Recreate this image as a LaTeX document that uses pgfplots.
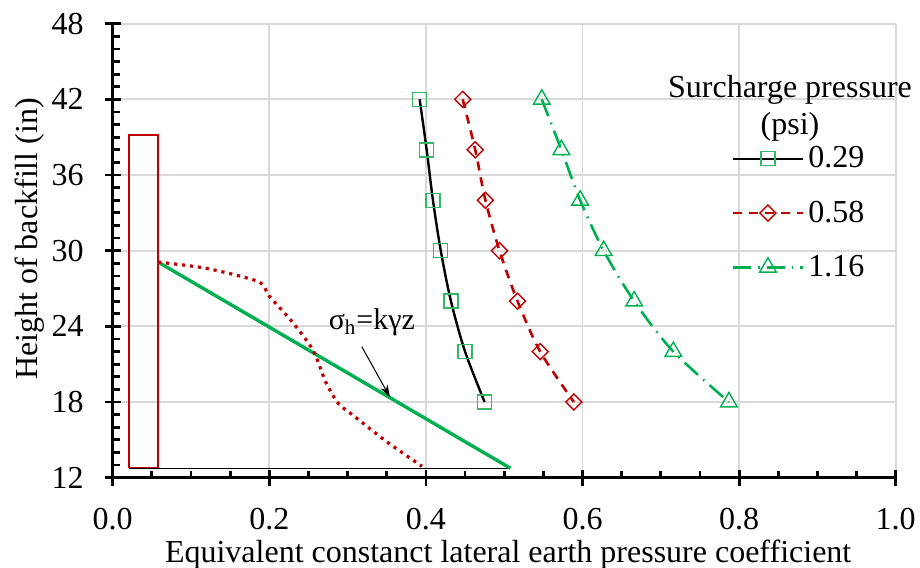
\documentclass[border=0pt]{standalone}
\usepackage{pgfplots}
\pgfplotsset{compat=1.18}
\usepackage{fontspec}
\setmainfont{Liberation Serif}
\usetikzlibrary{calc,arrows.meta}
\definecolor{sqgreen}{RGB}{51,184,102}
\definecolor{trigreen}{RGB}{0,176,80}
\definecolor{dred}{RGB}{192,0,0}
\definecolor{gridgray}{RGB}{217,217,217}
\begin{document}
\begin{tikzpicture}
\begin{axis}[
  scale only axis, width=391.5pt, height=227pt,
  xmin=0, xmax=1, ymin=12, ymax=48,
  axis lines=left, axis line style={-, line width=1.6pt},
  x axis line style={-}, y axis line style={-},
  xtick={0,0.2,0.4,0.6,0.8,1.0}, ytick={12,18,24,30,36,42,48},
  minor x tick num=3, minor y tick num=5,
  tick align=inside, major tick length=4pt, minor tick length=3.5pt,
  tick style={black, line width=1.4pt},
  extra x ticks={0,0.2,0.4,0.6,0.8,1.0}, extra x tick labels={},
  extra y ticks={12,18,24,30,36,42,48}, extra y tick labels={},
  extra tick style={tick align=outside, major tick length=4pt, grid=none},
  grid=major, major grid style={draw=gridgray, line width=0.9pt},
  /pgf/number format/assume math mode=true,
  ticklabel style={font=\fontsize{16}{18}\selectfont, inner sep=1pt},
  xticklabel style={yshift=-14.3pt, /pgf/number format/.cd, fixed, fixed zerofill, precision=1},
  yticklabel style={xshift=-13.3pt},
  xlabel={Equivalent constanct lateral earth pressure coefficient},
  ylabel={Height of backfill (in)},
  label style={font=\fontsize{16}{18}\selectfont, inner sep=1pt},
  xlabel style={at={(axis description cs:0.505,0)}, anchor=base, yshift=-42.5pt},
  ylabel style={at={(axis description cs:-0.106,0.526)}, anchor=center, rotate=0},
  clip=false,
  legend style={at={(axis cs:0.79,38.6)}, anchor=north west, draw=none, fill=none,
    inner sep=0pt, row sep=11pt, font=\fontsize{16}{18}\selectfont,
    nodes={inner sep=2pt}},
  legend cell align=left,
  legend image code/.code={\draw[mark repeat=2,mark phase=2] plot coordinates {(0pt,0pt)(17.5pt,0pt)(35pt,0pt)};},
]
% surcharge 0.29
\addplot[black, line width=1.2pt, smooth, mark=square, mark size=3.5pt,
  mark options={solid, draw=sqgreen, fill=none, line width=0.7pt}]
  coordinates {(0.392,42)(0.401,38)(0.409,34)(0.419,30)(0.432,26)(0.450,22)(0.475,18)};
\addlegendentry{0.29}
% surcharge 0.58
\addplot[dred, line width=1.3pt, smooth, dash pattern=on 4.5pt off 3.5pt, mark=square, mark size=2.85pt,
  mark options={solid, rotate=45, draw=dred, fill=none, line width=0.7pt}]
  coordinates {(0.447,42)(0.463,38)(0.476,34)(0.494,30)(0.517,26)(0.546,22)(0.589,18)};
\addlegendentry{0.58}
% surcharge 1.16
\addplot[trigreen, line width=1.3pt, smooth, dash pattern=on 9pt off 3.5pt on 0.8pt off 3.5pt, mark=triangle, mark size=4.8pt,
  mark options={solid, draw=trigreen, fill=none, line width=0.7pt}]
  coordinates {(0.548,42)(0.573,38)(0.597,34)(0.627,30)(0.666,26)(0.716,22)(0.787,18)};
\addlegendentry{1.16}
% wall rectangle
\addplot[dred, line width=1pt, forget plot] coordinates {(0.021,12.75)(0.021,39.17)(0.058,39.17)(0.058,12.75)(0.021,12.75)};
% base line
\addplot[black, line width=0.6pt, forget plot] coordinates {(0.021,12.75)(0.508,12.75)};
% theoretical line
\addplot[trigreen, line width=1.7pt, forget plot] coordinates {(0.058,29.1)(0.508,12.75)};
% measured dotted
\addplot[dred, line width=1.6pt, dash pattern=on 1.6pt off 2.4pt, smooth, tension=0.4, forget plot]
  coordinates {(0.058,29.1)(0.120,28.6)(0.186,27.55)(0.200,26.4)(0.230,24.3)(0.256,22.1)(0.272,19.6)(0.288,17.9)(0.310,16.8)(0.350,14.85)(0.395,12.9)};
% annotation
\node[font=\fontsize{15}{17}\selectfont] at (axis cs:0.331,24.3) {σ\textsubscript{h}=kγz};
\draw[-{Stealth[length=6pt,width=4pt]}, line width=0.5pt] (axis cs:0.318,22.4) -- (axis cs:0.354,18.4);
\node[align=center, font=\fontsize{16}{18.5}\selectfont] at (axis cs:0.865,41.28) {Surcharge pressure\\(psi)};
\end{axis}
\pgfresetboundingbox
\path ($(current axis.south west)+(-56.35pt,-44.65pt)$) rectangle ($(current axis.north east)+(12.15pt,11.85pt)$);
\end{tikzpicture}
\end{document}
